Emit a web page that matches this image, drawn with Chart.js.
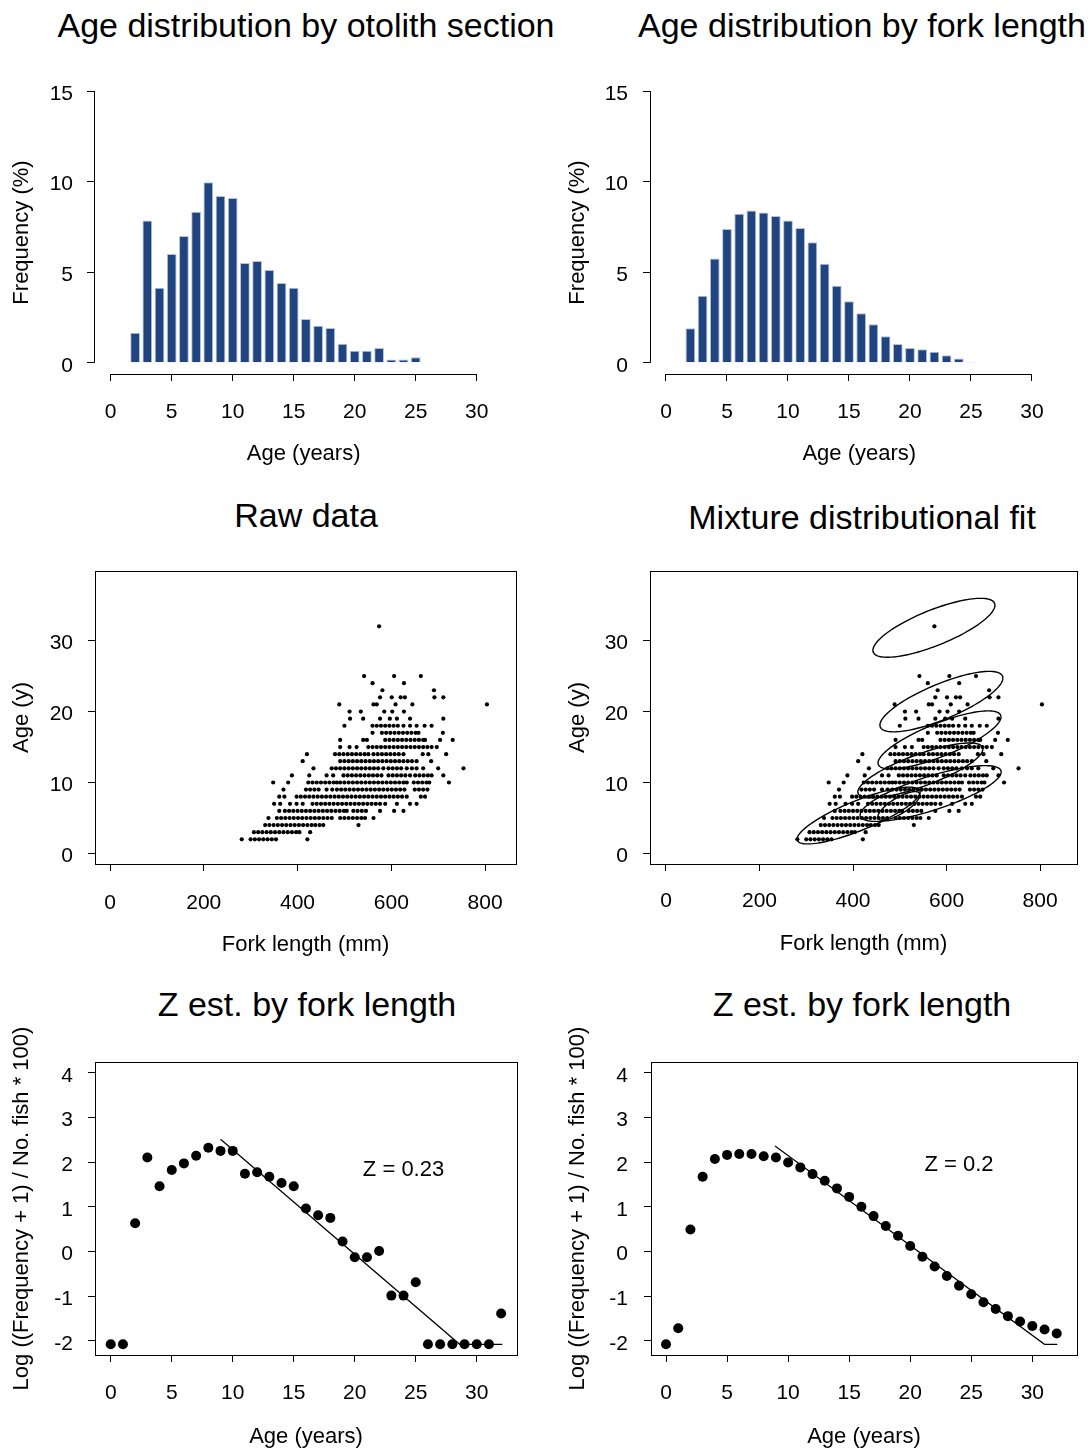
<!DOCTYPE html>
<html>
<head>
<meta charset="utf-8">
<script src="https://cdn.jsdelivr.net/npm/chart.js@4.4.1/dist/chart.umd.min.js"></script>
<style>
  body { margin: 0; background: #fff; width: 1091px; height: 1452px; position: relative; overflow: hidden;
         font-family: "Liberation Sans", Arial, Helvetica, sans-serif; }
  canvas { position: absolute; }
  .ttl { position: absolute; font-size: 34px; line-height: 40px; white-space: nowrap;
         transform: translateX(-50%); color: #000; }
</style>
</head>
<body>
<div class="ttl" style="left:306px;top:5px">Age distribution by otolith section</div>
<div class="ttl" style="left:862px;top:5px">Age distribution by fork length</div>
<div class="ttl" style="left:306px;top:495px">Raw data</div>
<div class="ttl" style="left:862px;top:497px">Mixture distributional fit</div>
<div class="ttl" style="left:307px;top:984px">Z est. by fork length</div>
<div class="ttl" style="left:862px;top:984px">Z est. by fork length</div>

<canvas id="histOtolith" width="545" height="486" style="left:0;top:0"></canvas>
<canvas id="histLength" width="546" height="486" style="left:545px;top:0"></canvas>
<canvas id="rawScatter" width="545" height="486" style="left:0;top:486px"></canvas>
<canvas id="mixScatter" width="546" height="486" style="left:545px;top:486px"></canvas>
<canvas id="zOtolithChart" width="545" height="480" style="left:0;top:972px"></canvas>
<canvas id="zLengthChart" width="546" height="480" style="left:545px;top:972px"></canvas>

<script>
// ---- data ----
const otolithAges = [2, 3, 4, 5, 6, 7, 8, 9, 10, 11, 12, 13, 14, 15, 16, 17, 18, 19, 20, 21, 22, 23, 24, 25, 32];
const otolithFreq = [1.66, 7.85, 4.14, 6.0, 7.0, 8.34, 9.96, 9.21, 9.1, 5.51, 5.62, 5.12, 4.4, 4.14, 2.41, 2.04, 1.92, 1.05, 0.66, 0.66, 0.81, 0.18, 0.18, 0.31, 0.02];

const lengthAges = [2, 3, 4, 5, 6, 7, 8, 9, 10, 11, 12, 13, 14, 15, 16, 17, 18, 19, 20, 21, 22, 23, 24, 25];
const lengthFreq = [1.9, 3.7, 5.76, 7.38, 8.23, 8.4, 8.29, 8.1, 7.85, 7.44, 6.65, 5.47, 4.25, 3.39, 2.73, 2.12, 1.47, 1.03, 0.81, 0.74, 0.61, 0.42, 0.24, 0.05];

const histXTicks = [0, 5, 10, 15, 20, 25, 30];
const histYTicks = [0, 5, 10, 15];

// raw data: one list of fork lengths (mm) per age row
const rawAges = [2, 3, 4, 5, 6, 7, 8, 9, 10, 11, 12, 13, 14, 15, 16, 17, 18, 19, 20, 21, 22, 23, 24, 25, 32];
const rawForks = [
  [281, 300, 309, 318, 327, 336, 345, 354, 421],
  [307, 316, 325, 334, 343, 352, 361, 370, 379, 388, 397, 404, 427],
  [331, 340, 349, 358, 367, 376, 385, 394, 403, 412, 421, 430, 438, 447, 455, 530],
  [338, 356, 365, 374, 383, 392, 401, 410, 419, 428, 437, 446, 455, 464, 473, 491, 500, 509, 518, 527, 536, 544, 562],
  [361, 373, 382, 391, 400, 409, 418, 427, 436, 445, 454, 463, 472, 481, 490, 499, 505, 519, 528, 537, 546, 576, 606, 626],
  [350, 363, 384, 398, 411, 432, 441, 450, 459, 468, 477, 486, 495, 504, 513, 522, 531, 540, 549, 558, 567, 576, 587, 612, 640, 654],
  [361, 372, 398, 407, 416, 425, 434, 443, 452, 461, 470, 479, 488, 497, 506, 515, 524, 533, 542, 551, 560, 569, 578, 587, 596, 605, 614, 623, 633, 663, 672],
  [370, 418, 427, 436, 445, 462, 474, 484, 493, 502, 511, 520, 529, 538, 547, 556, 565, 574, 583, 592, 601, 610, 619, 628, 650, 659, 668, 677],
  [348, 380, 423, 432, 441, 450, 459, 468, 477, 484, 491, 500, 509, 518, 527, 536, 545, 554, 563, 572, 581, 590, 599, 608, 617, 626, 633, 648, 657, 666, 675, 681, 723],
  [388, 425, 462, 476, 498, 507, 516, 525, 534, 543, 552, 561, 570, 579, 594, 603, 612, 621, 630, 640, 651, 660, 669, 678, 686, 711],
  [434, 473, 482, 491, 500, 509, 518, 527, 536, 545, 554, 563, 572, 583, 594, 603, 612, 621, 633, 644, 654, 668, 700, 754],
  [411, 491, 500, 509, 518, 527, 536, 545, 554, 563, 572, 581, 590, 599, 608, 617, 626, 635, 644, 654, 685],
  [420, 480, 489, 498, 507, 516, 525, 534, 543, 551, 562, 571, 580, 589, 598, 607, 616, 626, 667, 679, 717],
  [491, 511, 526, 551, 560, 569, 578, 587, 596, 605, 614, 623, 632, 641, 650, 659, 668, 677, 686, 697],
  [491, 540, 548, 587, 596, 605, 614, 623, 632, 641, 650, 659, 668, 672, 704, 731],
  [560, 580, 589, 598, 607, 616, 625, 634, 643, 652, 658, 710],
  [500, 560, 569, 578, 587, 596, 605, 614, 626, 640, 654, 671, 686],
  [512, 540, 576, 597, 612, 640, 711],
  [511, 535, 585, 602, 627],
  [489, 562, 569, 609, 645, 804],
  [576, 601, 620, 629, 692, 711],
  [581, 691],
  [560, 627],
  [542, 606, 663],
  [574]
];
const scatterXTicks = [0, 200, 400, 600, 800];
const scatterYTicks = [0, 10, 20, 30];

// mixture components: centre, tip of the long half-axis, vertical half-chord (age units)
const ellFork    = [573, 589, 585, 544, 566, 412, 498];
const ellAge     = [31.8, 21.4, 16.0, 11.7, 8.45, 5.35, 6.7];
const ellTipFork = [130.5, 131.5, 131.5, 133.7, 150.8, 131.5, 45];
const ellTipAge  = [3.17, 3.31, 3.24, 3.03, 3.03, 3.31, 1.55];
const ellHalfAge = [2.68, 2.68, 2.5, 2.4, 2.5, 2.25, 1.3];

// catch curves
const zAges = [0, 1, 2, 3, 4, 5, 6, 7, 8, 9, 10, 11, 12, 13, 14, 15, 16, 17, 18, 19, 20, 21, 22, 23, 24, 25, 26, 27, 28, 29, 30, 31, 32];
const zOtolith = [-2.08, -2.08, 0.63, 2.10, 1.46, 1.82, 1.97, 2.14, 2.32, 2.25, 2.25, 1.74, 1.77, 1.67, 1.53, 1.46, 0.96, 0.81, 0.75, 0.22, -0.13, -0.13, 0.01, -0.99, -0.99, -0.69, -2.08, -2.08, -2.08, -2.08, -2.08, -2.08, -1.39];
const zLength = [-2.08, -1.72, 0.49, 1.67, 2.07, 2.16, 2.18, 2.18, 2.13, 2.10, 1.99, 1.88, 1.73, 1.58, 1.41, 1.22, 1.00, 0.79, 0.57, 0.35, 0.12, -0.12, -0.34, -0.55, -0.77, -0.96, -1.14, -1.29, -1.45, -1.57, -1.67, -1.75, -1.84];
const fitOtolithX = [9, 28.6, 32.1];
const fitOtolithY = [2.51, -2.08, -2.08];
const fitLengthX = [8.93, 31, 32.05];
const fitLengthY = [2.36, -2.08, -2.08];
const zYTicks = [-2, -1, 0, 1, 2, 3, 4];
const zXTicks = [0, 5, 10, 15, 20, 25, 30];

// ---- helpers ----
const FONT = '"Liberation Sans", Arial, Helvetica, sans-serif';
const BAR_FILL = '#1f4480';

function axis(min, max, ticks, title, size, tickPad, isX) {
  return {
    type: 'linear',
    min: min,
    max: max,
    offset: false,
    afterBuildTicks: (s) => { s.ticks = ticks.map(v => ({ value: v })); },
    afterFit: (s) => { if (isX) s.height = size; else s.width = size; },
    grid: { drawOnChartArea: false, drawTicks: true, tickLength: 7, color: '#000', lineWidth: 1, offset: false },
    border: { display: false },
    ticks: { color: '#000', font: { family: FONT, size: 21 }, padding: tickPad, maxRotation: 0, autoSkip: false,
             labelOffset: isX ? 0 : 3 },
    title: { display: true, text: title, color: '#000', font: { family: FONT, size: 22 }, padding: { top: 0, bottom: 0 } }
  };
}

const panelDecor = {
  id: 'panelDecor',
  afterDatasetsDraw(chart, args, opts) {
    const { ctx, chartArea: a } = chart;
    const x = chart.scales.x, y = chart.scales.y;
    ctx.save();
    ctx.strokeStyle = '#000';
    ctx.lineWidth = 1;
    if (opts.frame) {
      ctx.strokeRect(Math.round(a.left) + 0.5, Math.round(a.top) + 0.5,
        Math.round(a.right - a.left), Math.round(a.bottom - a.top));
    }
    if (opts.rAxes) {
      const bx = Math.round(a.bottom) + 0.5, lx = Math.round(a.left) + 0.5;
      ctx.beginPath();
      ctx.moveTo(x.getPixelForValue(x.ticks[0].value), bx);
      ctx.lineTo(x.getPixelForValue(x.ticks[x.ticks.length - 1].value), bx);
      ctx.moveTo(lx, y.getPixelForValue(y.ticks[0].value));
      ctx.lineTo(lx, y.getPixelForValue(y.ticks[y.ticks.length - 1].value));
      ctx.stroke();
    }
    if (opts.ellipses) {
      ctx.lineWidth = 1.4;
      for (let i = 0; i < ellFork.length; i++) {
        ctx.beginPath();
        for (let k = 0; k <= 120; k++) {
          const t = k / 120 * Math.PI * 2;
          const fx = ellFork[i] + ellTipFork[i] * Math.cos(t);
          const fy = ellAge[i] + ellTipAge[i] * Math.cos(t) + ellHalfAge[i] * Math.sin(t);
          const px = x.getPixelForValue(fx), py = y.getPixelForValue(fy);
          if (k === 0) ctx.moveTo(px, py); else ctx.lineTo(px, py);
        }
        ctx.stroke();
      }
    }
    if (opts.label) {
      ctx.fillStyle = '#000';
      ctx.font = '22px ' + FONT;
      ctx.textAlign = 'center';
      ctx.textBaseline = 'middle';
      ctx.fillText(opts.label.text, x.getPixelForValue(opts.label.x), y.getPixelForValue(opts.label.y));
    }
    ctx.restore();
  }
};

function baseOptions(pad, scales, decor) {
  return {
    responsive: false,
    animation: false,
    devicePixelRatio: 1,
    layout: { padding: pad },
    plugins: { legend: { display: false }, tooltip: { enabled: false }, panelDecor: decor },
    scales: scales
  };
}

function histChart(id, ages, freq, pad, xMin, yW, yPad) {
  new Chart(document.getElementById(id), {
    type: 'bar',
    data: {
      datasets: [{
        data: ages.map((a, i) => ({ x: a, y: freq[i] })),
        backgroundColor: BAR_FILL,
        borderColor: '#b4c1d8',
        borderWidth: 1,
        barPercentage: 0.8,
        categoryPercentage: 1
      }]
    },
    options: baseOptions(pad, {
      x: axis(xMin, 33, histXTicks, 'Age (years)', 93.2, 18.4, true),
      y: axis(-0.62, 15, histYTicks, 'Frequency (%)', yW, yPad, false)
    }, { rAxes: true }),
    plugins: [panelDecor]
  });
}

histChart('histOtolith', otolithAges, otolithFreq, { left: 8.8, right: 31.7, top: 91, bottom: 18.8 }, -1.37, 85.2, 14);
histChart('histLength', lengthAges, lengthFreq, { left: 19.8, right: 22.4, top: 91, bottom: 18.8 }, -1.31, 85.2, 15);

const rawPoints = [];
rawAges.forEach((age, i) => rawForks[i].forEach(f => rawPoints.push({ x: f, y: age })));

function scatterChart(id, pad, xMin, xMax, yW, xH, xPad, withEllipses) {
  new Chart(document.getElementById(id), {
    type: 'scatter',
    data: {
      datasets: [{ data: rawPoints, pointRadius: 2.1, pointBackgroundColor: '#000', pointBorderWidth: 0 }]
    },
    options: baseOptions(pad, {
      x: axis(xMin, xMax, scatterXTicks, 'Fork length (mm)', xH, xPad, true),
      y: axis(-1.48, 39.8, scatterYTicks, 'Age (y)', yW, 15, false)
    }, { frame: true, ellipses: withEllipses }),
    plugins: [panelDecor]
  });
}

scatterChart('rawScatter', { left: 8.8, right: 29, top: 85, bottom: 13.8 }, -32, 866, 86.2, 94.2, 19.4, false);
scatterChart('mixScatter', { left: 19.8, right: 14, top: 85, bottom: 14.8 }, -34.2, 879, 85.2, 93.2, 17.4, true);

function zChart(id, values, fitX, fitY, zText, textPos, pad, xMin, xMax, yPad) {
  new Chart(document.getElementById(id), {
    type: 'scatter',
    data: {
      datasets: [
        { data: zAges.map((a, i) => ({ x: a, y: values[i] })), pointRadius: 5, pointBackgroundColor: '#000', pointBorderWidth: 0 },
        { data: fitX.map((a, i) => ({ x: a, y: fitY[i] })), showLine: true, borderColor: '#000', borderWidth: 1.2, pointRadius: 0, fill: false }
      ]
    },
    options: baseOptions(pad, {
      x: axis(xMin, xMax, zXTicks, 'Age (years)', 95.2, 18.4, true),
      y: axis(-2.32, 4.24, zYTicks, 'Log ((Frequency + 1) / No. fish * 100)', 86.2, yPad, false)
    }, { frame: true, label: { text: zText, x: textPos[0], y: textPos[1] } }),
    plugins: [panelDecor]
  });
}

zChart('zOtolithChart', zOtolith, fitOtolithX, fitOtolithY, 'Z = 0.23', [24, 1.82],
  { left: 8.8, right: 28, top: 90, bottom: 1.8 }, -1.29, 33.3, 15);
zChart('zLengthChart', zLength, fitLengthX, fitLengthY, 'Z = 0.2', [24, 1.93],
  { left: 19.8, right: 14, top: 90, bottom: 1.8 }, -1.23, 33.66, 16);
</script>
</body>
</html>
